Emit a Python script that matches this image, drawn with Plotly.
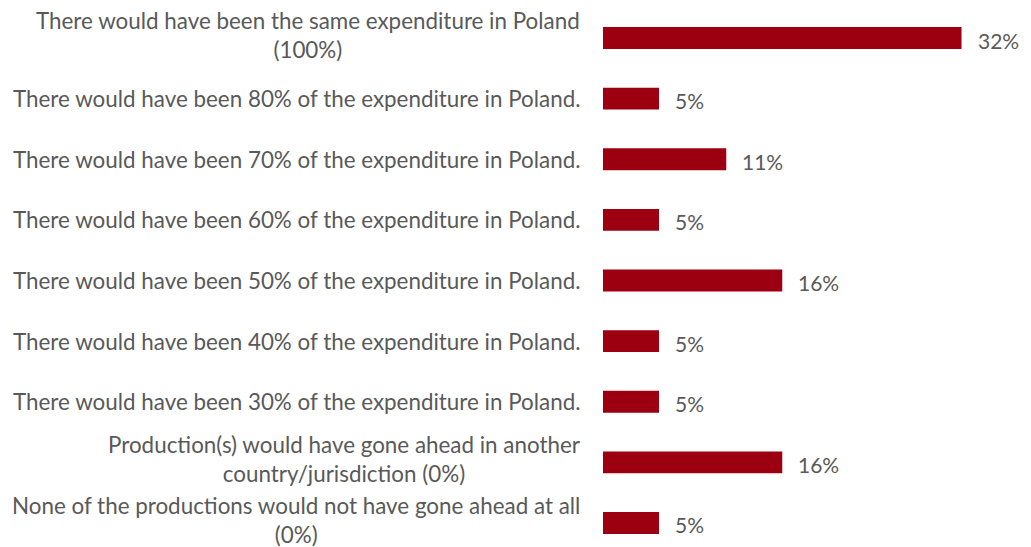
import plotly.graph_objects as go

# Answer options (top to bottom) and share of respondents (%)
categories = [
    "There would have been the same expenditure in Poland<br>(100%)",
    "There would have been 80% of the expenditure in Poland.",
    "There would have been 70% of the expenditure in Poland.",
    "There would have been 60% of the expenditure in Poland.",
    "There would have been 50% of the expenditure in Poland.",
    "There would have been 40% of the expenditure in Poland.",
    "There would have been 30% of the expenditure in Poland.",
    "Production(s) would have gone ahead in another<br>country/jurisdiction (0%)",
    "None of the productions would not have gone ahead at all<br>(0%)",
]
values = [32, 5, 11, 5, 16, 5, 5, 16, 5]
value_labels = ["32%", "5%", "11%", "5%", "16%", "5%", "5%", "16%", "5%"]

BAR_COLOR = "#9c0010"
TEXT_COLOR = "#595959"
FONT = "Lato"

positions = list(range(len(categories)))

fig = go.Figure(
    go.Bar(
        x=values,
        y=positions,
        orientation="h",
        marker=dict(color=BAR_COLOR, line=dict(width=0)),
        width=0.36,
        hoverinfo="skip",
    )
)

annotations = []
# category labels, right-aligned left of the bars, centred line-by-line
for pos, cat in zip(positions, categories):
    two_lines = "<br>" in cat
    annotations.append(dict(
        x=0, xref="paper", y=pos, yref="y",
        text=cat, showarrow=False,
        xanchor="right", yanchor="middle", align="center",
        xshift=-21, yshift=3 if two_lines else 0,
        font=dict(family=FONT, size=22.4, color=TEXT_COLOR),
    ))
# value labels just right of each bar
for pos, val, lab in zip(positions, values, value_labels):
    annotations.append(dict(
        x=val, xref="x", y=pos, yref="y",
        text=lab, showarrow=False,
        xanchor="left", yanchor="middle",
        xshift=14, yshift=-2,
        font=dict(family=FONT, size=21, color=TEXT_COLOR),
    ))

fig.update_layout(
    width=1031, height=547,
    margin=dict(l=603, r=0, t=0, b=0),
    paper_bgcolor="white", plot_bgcolor="white",
    showlegend=False,
    xaxis=dict(range=[0, 38.2], visible=False, fixedrange=True),
    yaxis=dict(range=[8.396, -0.627], visible=False, fixedrange=True),
    annotations=annotations,
    font=dict(family=FONT, color=TEXT_COLOR),
)

fig.write_html("out.html")
